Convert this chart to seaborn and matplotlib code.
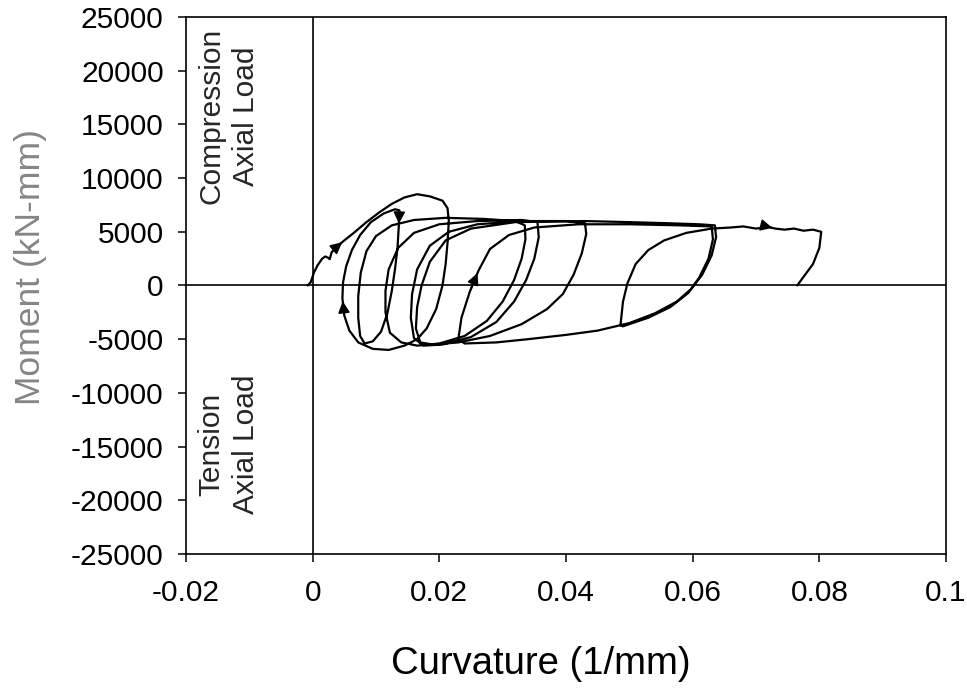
import numpy as np
import pandas as pd
import seaborn as sns
import matplotlib
matplotlib.use("Agg")
import matplotlib.pyplot as plt
from matplotlib.ticker import FuncFormatter


# Moment-curvature path, in loading order

curvature = [
    # first loading up to peak
    -0.0008, -0.0003, 0.0002, 0.0008, 0.0015, 0.0020, 0.0024, 0.0027, 0.0030, 0.0040,
    0.0050, 0.0065, 0.0085, 0.0105, 0.0125, 0.0145, 0.0165, 0.0185, 0.0205, 0.0213,
    # first loop
    0.0215, 0.0213, 0.0210, 0.0205, 0.0195, 0.0180, 0.0165, 0.0145, 0.0120, 0.0095,
    0.0072, 0.0058, 0.0050, 0.0047, 0.0048, 0.0053, 0.0062, 0.0075, 0.0092, 0.0112,
    0.0130, 0.0137,
    # second loop
    0.0136, 0.0134, 0.0130, 0.0125, 0.0118, 0.0108, 0.0095, 0.0082, 0.0075, 0.0072,
    0.0072, 0.0076, 0.0085, 0.0100, 0.0125, 0.0160, 0.0210, 0.0270, 0.0320, 0.0335,
    # third loop
    0.0336, 0.0330, 0.0318, 0.0300, 0.0275, 0.0240, 0.0200, 0.0165, 0.0140, 0.0122,
    0.0115, 0.0115, 0.0120, 0.0135, 0.0160, 0.0200, 0.0260, 0.0330, 0.0355,
    # fourth loop
    0.0357, 0.0350, 0.0337, 0.0318, 0.0290, 0.0250, 0.0205, 0.0175, 0.0160, 0.0155,
    0.0157, 0.0165, 0.0185, 0.0215, 0.0260, 0.0330, 0.0400, 0.0430,
    # fifth loop
    0.0432, 0.0425, 0.0412, 0.0395, 0.0370, 0.0330, 0.0280, 0.0230, 0.0190, 0.0170,
    0.0163, 0.0165, 0.0172, 0.0185, 0.0210, 0.0250, 0.0320, 0.0430, 0.0500, 0.0560,
    0.0610, 0.0635,
    # sixth loop
    0.0637, 0.0630, 0.0615, 0.0598, 0.0575, 0.0540, 0.0500, 0.0450, 0.0400, 0.0340,
    0.0290, 0.0240, 0.0230, 0.0235, 0.0248, 0.0262, 0.0280, 0.0310, 0.0350, 0.0420,
    0.0500, 0.0580, 0.0630,
    # seventh loop
    0.0632, 0.0625, 0.0610, 0.0593, 0.0565, 0.0530, 0.0490, 0.0486, 0.0490, 0.0497,
    0.0510, 0.0530, 0.0555, 0.0590, 0.0630,
    # final push and unload
    0.0660, 0.0680, 0.0700, 0.0720, 0.0730, 0.0745, 0.0760, 0.0775, 0.0790, 0.0803,
    0.0800, 0.0790, 0.0775, 0.0765,
]

moment = [
    0, 300, 1200, 1900, 2500, 2700, 2600, 2450, 3100, 3700,
    4200, 4900, 5900, 6800, 7600, 8200, 8500, 8300, 7900, 7200,
    6000, 4000, 2000, 0, -2200, -4000, -5000, -5600, -6000, -5900,
    -5300, -4200, -2800, -1200, 300, 1800, 3300, 4700, 5900, 6700,
    7100, 7000,
    5500, 3500, 1500, -500, -2600, -4300, -5200, -5400, -4700, -3000,
    -1000, 1200, 3200, 4600, 5600, 6100, 6300, 6200, 6000, 5600,
    4300, 2500, 500, -1500, -3300, -4700, -5400, -5600, -5300, -4400,
    -2500, -500, 1500, 3500, 4900, 5700, 6000, 6100, 5900,
    4500, 2500, 500, -1500, -3400, -4800, -5500, -5600, -4900, -3000,
    -800, 1500, 3700, 5000, 5700, 6000, 6000, 5800,
    4800, 3000, 1000, -800, -2200, -3600, -4700, -5300, -5500, -5300,
    -4000, -2000, 0, 2200, 4200, 5300, 5900, 6000, 5900, 5800,
    5700, 5600,
    4500, 2800, 1000, -300, -1500, -2600, -3500, -4200, -4600, -5000,
    -5300, -5400, -5000, -3000, -600, 1400, 3400, 4700, 5400, 5700,
    5700, 5600, 5500,
    4300, 2500, 700, -700, -2000, -3000, -3800, -3700, -1500, 200,
    2000, 3300, 4200, 4900, 5300,
    5400, 5500, 5300, 5450, 5300, 5200, 5300, 5100, 5200, 5000,
    3500, 2000, 800, 0,
]

# points on the path where a direction arrow is drawn (arrow goes to the next point)
arrow_idx = [9, 32, 41, 135, 162]

x_ticks = [-0.02, 0, 0.02, 0.04, 0.06, 0.08, 0.1]
y_ticks = [-25000, -20000, -15000, -10000, -5000, 0, 5000, 10000, 15000, 20000, 25000]

df = pd.DataFrame({"Curvature": curvature, "Moment": moment, "step": range(len(curvature))})


sns.set_theme(style="ticks")
plt.rcParams["font.family"] = ["Liberation Sans", "DejaVu Sans"]
plt.rcParams["axes.unicode_minus"] = False

fig = plt.figure(figsize=(9.67, 7.0), dpi=100)
ax = fig.add_axes([0.1923, 0.2086, 0.786, 0.7671])

ax.axhline(0, color="black", lw=1.2, zorder=1)
ax.axvline(0, color="black", lw=1.2, zorder=1)

sns.lineplot(data=df, x="Curvature", y="Moment", sort=False, estimator=None,
             color="black", lw=1.6, ax=ax, zorder=3)

for i in arrow_idx:
    ax.annotate("", xy=(curvature[i + 1], moment[i + 1]), xytext=(curvature[i], moment[i]),
                arrowprops=dict(arrowstyle="-|>", color="black", lw=1.3, mutation_scale=17),
                zorder=4)

ax.set_xlim(-0.02, 0.1)
ax.set_ylim(-25000, 25000)
ax.set_xticks(x_ticks)
ax.set_yticks(y_ticks)
ax.xaxis.set_major_formatter(FuncFormatter(lambda v, p: f"{v:g}"))
ax.yaxis.set_major_formatter(FuncFormatter(lambda v, p: f"{v:g}"))

ax.tick_params(direction="out", length=6, width=1.1, labelsize=21.5, colors="black")
ax.tick_params(axis="y", pad=10)
ax.tick_params(axis="x", pad=12)
for s in ax.spines.values():
    s.set_color("black")
    s.set_linewidth(1.2)

ax.set_xlabel("Curvature (1/mm)", fontsize=27.5, color="black")
ax.set_ylabel("Moment (kN-mm)", fontsize=25.5, color="#858585")
ax.xaxis.set_label_coords(0.467, -0.172)
ax.yaxis.set_label_coords(-0.183, 0.534)

ax.text(-0.0133, 15800, "Compression\nAxial Load", rotation=90, fontsize=21.5,
        ha="center", va="center", multialignment="center", linespacing=1.3)
ax.text(-0.0133, -14800, "Tension\nAxial Load", rotation=90, fontsize=21.5,
        ha="center", va="center", multialignment="center", linespacing=1.3)

fig.savefig("out.png", dpi=100, facecolor="white")
